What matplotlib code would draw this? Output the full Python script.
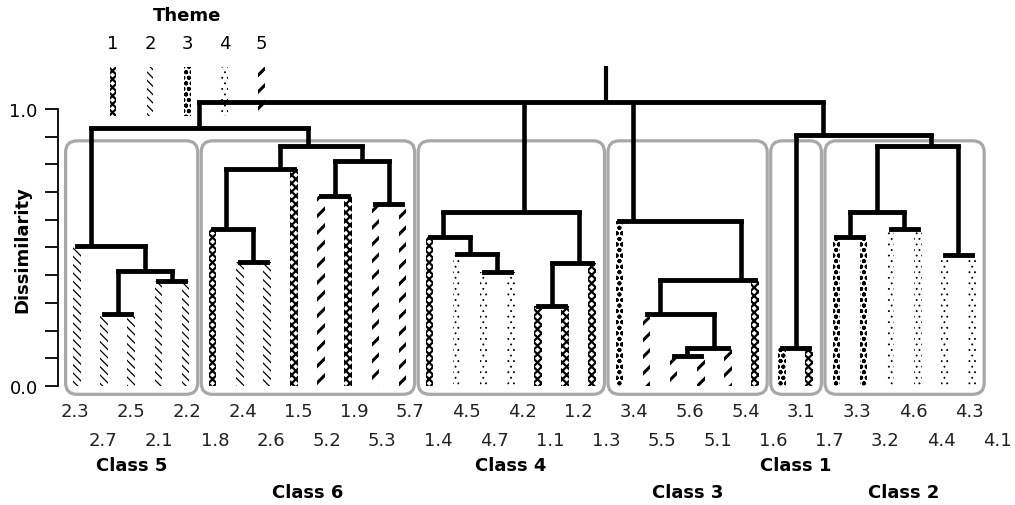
import numpy as np
import matplotlib.pyplot as plt
from matplotlib.patches import Rectangle, FancyBboxPatch

# leaves in drawing order (first digit = theme)
leaf_labels = ['2.3', '2.7', '2.5', '2.1', '2.2',
               '1.8', '2.4', '2.6', '1.5', '5.2', '1.9', '5.3', '5.7',
               '1.4', '4.5', '4.7', '4.2', '1.1', '1.2', '1.3',
               '3.4', '5.5', '5.6', '5.1', '5.4', '1.6',
               '3.1', '1.7',
               '3.3', '3.2', '4.6', '4.4', '4.3', '4.1']

# merges: node ids 0..33 are leaves, internal nodes numbered from 34 on
merge_children = [
    (1, 2), (3, 4), (34, 35), (0, 36),                      # class 5
    (6, 7), (5, 38), (39, 8), (9, 10), (11, 12), (41, 42), (40, 43),  # class 6
    (37, 44),                                               # 5 + 6
    (15, 16), (14, 46), (13, 47), (17, 18), (49, 19), (48, 50),       # class 4
    (22, 23), (52, 24), (21, 53), (54, 25), (20, 55),       # class 3
    (26, 27),                                               # class 1
    (28, 29), (30, 31), (58, 59), (32, 33), (60, 61),       # class 2
    (57, 62),                                               # 1 + 2
    (45, 51, 56, 63),                                       # root
]
merge_heights = [0.26, 0.379, 0.415, 0.505,
                 0.448, 0.567, 0.783, 0.686, 0.657, 0.812, 0.866,
                 0.932,
                 0.412, 0.477, 0.538, 0.289, 0.444, 0.628,
                 0.108, 0.137, 0.26, 0.383, 0.596,
                 0.137,
                 0.538, 0.567, 0.628, 0.473, 0.866,
                 0.906,
                 1.025]
root_top = 1.155

class_names = ['Class 5', 'Class 6', 'Class 4', 'Class 3', 'Class 1', 'Class 2']
class_sizes = [5, 8, 7, 6, 2, 6]

themes = [1, 2, 3, 4, 5]

# hatch style per theme
theme_style = {
    1: dict(hatch='xxxx', hlw=1.6),
    2: dict(hatch='\\\\\\\\', hlw=0.9),
    3: dict(hatch='ooo', hlw=1.3),
    4: dict(hatch='...', hlw=0.6),
    5: dict(hatch='//', hlw=2.2),
}

n_leaves = len(leaf_labels)
leaf_theme = [int(s[0]) for s in leaf_labels]


def strip(ax, x, y0, y1, theme, w=0.28):
    st = theme_style[theme]
    with plt.rc_context({'hatch.linewidth': st['hlw']}):
        r = Rectangle((x - w / 2, y0), w, y1 - y0, facecolor='white',
                      edgecolor='black', hatch=st['hatch'], lw=0, zorder=2)
        if hasattr(r, 'set_hatch_linewidth'):
            r.set_hatch_linewidth(st['hlw'])
        ax.add_patch(r)


fig = plt.figure(figsize=(10.15, 5.06), dpi=100)
ax = fig.add_axes([0, 0, 1, 1])
ax.set_xlim(-2.839, 34.587)
ax.set_ylim(-0.4296, 1.397)

# layout of the tree
span = {i: (i, i) for i in range(n_leaves)}
xpos = {i: float(i) for i in range(n_leaves)}
height = {i: 0.0 for i in range(n_leaves)}
for k, (ch, h) in enumerate(zip(merge_children, merge_heights)):
    node = n_leaves + k
    span[node] = (span[ch[0]][0], span[ch[-1]][1])
    mid = len(ch) // 2
    xpos[node] = (span[ch[mid - 1]][1] + span[ch[mid]][0]) / 2
    height[node] = h
    xs = [xpos[c] for c in ch]
    ax.plot([min(xs), max(xs)], [h, h], color='black', lw=3.5,
            solid_capstyle='projecting', zorder=4)
    for c in ch:
        if c < n_leaves:
            strip(ax, xpos[c], 0, h, leaf_theme[c])
        else:
            ax.plot([xpos[c], xpos[c]], [height[c], h], color='black',
                    lw=3.3, solid_capstyle='butt', zorder=4)
root = n_leaves + len(merge_children) - 1
ax.plot([xpos[root], xpos[root]], [height[root], root_top], color='black',
        lw=3.0, solid_capstyle='butt', zorder=4)

# class boxes and class labels
start = 0
for k, (name, size) in enumerate(zip(class_names, class_sizes)):
    first, last = start, start + size - 1
    box = FancyBboxPatch((first - 0.42, -0.03), (last - first) + 0.87, 0.915,
                         boxstyle='round,pad=0,rounding_size=0.42',
                         mutation_aspect=27.12 / 277, facecolor='none',
                         edgecolor='#a8a8a8', lw=2.3, zorder=1)
    ax.add_patch(box)
    ax.text((first + last) / 2, -0.285 if k % 2 == 0 else -0.383, name,
            ha='center', va='center', fontsize=13, fontweight='bold')
    start += size

# leaf labels on two staggered rows
for i, lab in enumerate(leaf_labels):
    ax.text(-0.07 + 1.03 * i, -0.09 if i % 2 == 0 else -0.195, lab,
            ha='center', va='center', fontsize=13, color='#222222')

# theme legend
for k, t in enumerate(themes):
    lx = 1.33 + 1.37 * k
    strip(ax, lx, 0.975, 1.152, t, w=0.24)
    ax.text(lx, 1.238, str(t), ha='center', va='center', fontsize=13)
ax.text(1.33 + 1.37 * 2, 1.339, 'Theme', ha='center', va='center',
        fontsize=13, fontweight='bold')

# y axis
for s in ['top', 'right', 'bottom']:
    ax.spines[s].set_visible(False)
ax.spines['left'].set_position(('data', -0.70))
ax.spines['left'].set_bounds(0, 1)
ax.spines['left'].set_linewidth(1.3)
ax.set_xticks([])
ticks = np.round(np.arange(0, 1.01, 0.1), 1)
ax.set_yticks(ticks)
ax.set_yticklabels(['%.1f' % t if t in (0.0, 1.0) else '' for t in ticks])
ax.tick_params(axis='y', direction='out', length=9.5, width=1.3,
               labelsize=13, pad=5)
ax.text(-2.03, 0.495, 'Dissimilarity', rotation=90, ha='center', va='center',
        fontsize=13, fontweight='bold')

fig.savefig('out.png', dpi=100)
